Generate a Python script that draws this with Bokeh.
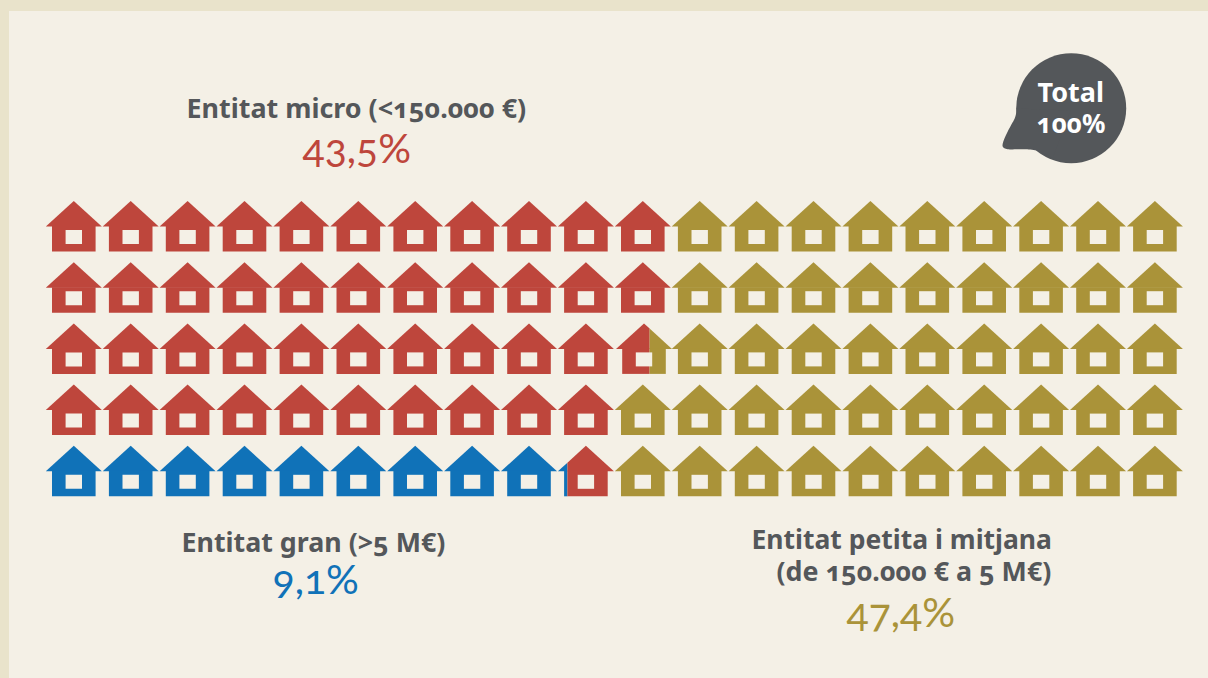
from bokeh.plotting import figure
from bokeh.embed import file_html
from bokeh.resources import INLINE
from bokeh.core.properties import value
from bokeh.models import Range1d

# ---- data: house units per row (each row = 20 houses) ----
gran_units = [0, 0, 0, 0, 9.17]
micro_units = [11, 11, 10.6, 10, 0.83]
petita_units = [9, 9, 9.4, 10, 10]

GRAN, MICRO, PETITA = "#1072b8", "#be463c", "#aa9339"
PANEL, BAND, GREY = "#f4f0e6", "#e9e3cb", "#54575a"

labels = [
    ("Entitat micro (<150.000 €)", 186, 107, GREY, 26.9, "bold", "Noto Sans"),
    ("43,5%", 302, 147, MICRO, 41, "normal", "Lato"),
    ("Entitat gran (>5 M€)", 181, 541, GREY, 26.8, "bold", "Noto Sans"),
    ("9,1%", 272, 578, GRAN, 41, "normal", "Lato"),
    ("Entitat petita i mitjana", 751, 538, GREY, 26.5, "bold", "Noto Sans"),
    ("(de 150.000 € a 5 M€)", 776, 570, GREY, 26.8, "bold", "Noto Sans"),
    ("47,4%", 846, 611, PETITA, 41, "normal", "Lato"),
]
bubble_labels = [("Total", 1037, 91, 27), ("100%", 1036, 122, 26)]

# ---- layout, in page pixels ----
W, H = 1192, 662
p = figure(width=W, height=H, output_backend="svg", toolbar_location=None,
           x_range=Range1d(0, W), y_range=Range1d(H, 0),
           min_border=0, border_fill_color=None, background_fill_color=None,
           outline_line_color=None)
p.axis.visible = False
p.grid.visible = False

X0, DX, Y0, DY = 73.3, 56.9, 200.5, 61.2
HALF_EAVE, HALF_BODY, ROOF, BODY = 28.0, 21.8, 25.5, 50.5
HALF_WIN, WIN_T, WIN_B = 8.2, 29.0, 43.0


def clip(poly, lo, hi):
    for bound, keep in ((lo, lambda x, b: x >= b), (hi, lambda x, b: x <= b)):
        out = []
        for i, (x1, y1) in enumerate(poly):
            x2, y2 = poly[(i + 1) % len(poly)]
            k1, k2 = keep(x1, bound), keep(x2, bound)
            if k1:
                out.append((x1, y1))
            if k1 != k2:
                out.append((bound, y1 + (y2 - y1) * (bound - x1) / (x2 - x1)))
        poly = out
    return poly


xs, ys, cs = [], [], []
win_l, win_r, win_t, win_b = [], [], [], []


def add(poly, color):
    if len(poly) >= 3:
        xs.append([a for a, _ in poly])
        ys.append([b for _, b in poly])
        cs.append(color)


for r in range(5):
    top = Y0 + r * DY
    stops = [(gran_units[r], GRAN), (gran_units[r] + micro_units[r], MICRO),
             (gran_units[r] + micro_units[r] + petita_units[r], PETITA)]
    for c in range(20):
        ax = X0 + c * DX
        if any(abs(s - round(s)) > 1e-6 and int(s) == c for s, _ in stops[:2]) and r == 2:
            ax += 1.2
        roof = [(ax, top), (ax + HALF_EAVE, top + ROOF), (ax - HALF_EAVE, top + ROOF)]
        body = [(ax - HALF_BODY, top + ROOF - 0.5), (ax + HALF_BODY, top + ROOF - 0.5),
                (ax + HALF_BODY, top + BODY), (ax - HALF_BODY, top + BODY)]
        left = ax - HALF_EAVE
        prev = 0.0
        for s, color in stops:
            a, b = max(prev, c), min(s, c + 1)
            if b > a:
                lo = left + (a - c) * 2 * HALF_EAVE
                hi = left + (b - c) * 2 * HALF_EAVE
                add(clip(roof, lo, hi), color)
                add(clip(body, lo, hi), color)
            prev = s
        win_l.append(ax - HALF_WIN)
        win_r.append(ax + HALF_WIN)
        win_t.append(top + WIN_T)
        win_b.append(top + WIN_B)

p.patches(xs, ys, fill_color=cs, line_color=None)
p.quad(left=win_l, right=win_r, top=win_t, bottom=win_b, fill_color=PANEL, line_color=None)

# speech bubble
p.circle(x=[1070.7], y=[107.7], radius=55, fill_color=GREY, line_color=None)


def qbez(p0, p1, p2, n=14):
    return [((1 - t) ** 2 * p0[0] + 2 * t * (1 - t) * p1[0] + t * t * p2[0],
             (1 - t) ** 2 * p0[1] + 2 * t * (1 - t) * p1[1] + t * t * p2[1])
            for t in (i / n for i in range(n + 1))]


tail = (qbez((1016, 108), (1016, 116), (1012, 122))
        + qbez((1012, 122), (1002, 140), (1002, 145))
        + qbez((1002, 145), (1002, 149), (1012, 149))
        + qbez((1012, 149), (1026, 148), (1036, 150))
        + qbez((1036, 150), (1043, 151), (1052, 158))
        + [(1070, 110)])
p.patch([a for a, _ in tail], [b for _, b in tail], fill_color=GREY, line_color=None)

for txt, x, y, col, size, style, font in labels:
    p.text(x=[x], y=[y], text=[txt], text_color=col, text_font=value(font),
           text_font_size=f"{size}px", text_font_style=style,
           text_align="left", text_baseline="alphabetic")
for txt, x, y, size in bubble_labels:
    p.text(x=[x], y=[y], text=[txt], text_color="white", text_font=value("Noto Sans"),
           text_font_size=f"{size}px", text_font_style="bold",
           text_align="left", text_baseline="alphabetic")

css = ("<style>html{font-feature-settings:'onum';background:"
       f"linear-gradient({BAND},{BAND}) top/100% 11px no-repeat,"
       f"linear-gradient({BAND},{BAND}) left/9px 100% no-repeat,{PANEL};"
       "min-height:100%}</style></head>")
html = file_html(p, INLINE).replace("</head>", css, 1)
open("out.html", "w").write(html)
